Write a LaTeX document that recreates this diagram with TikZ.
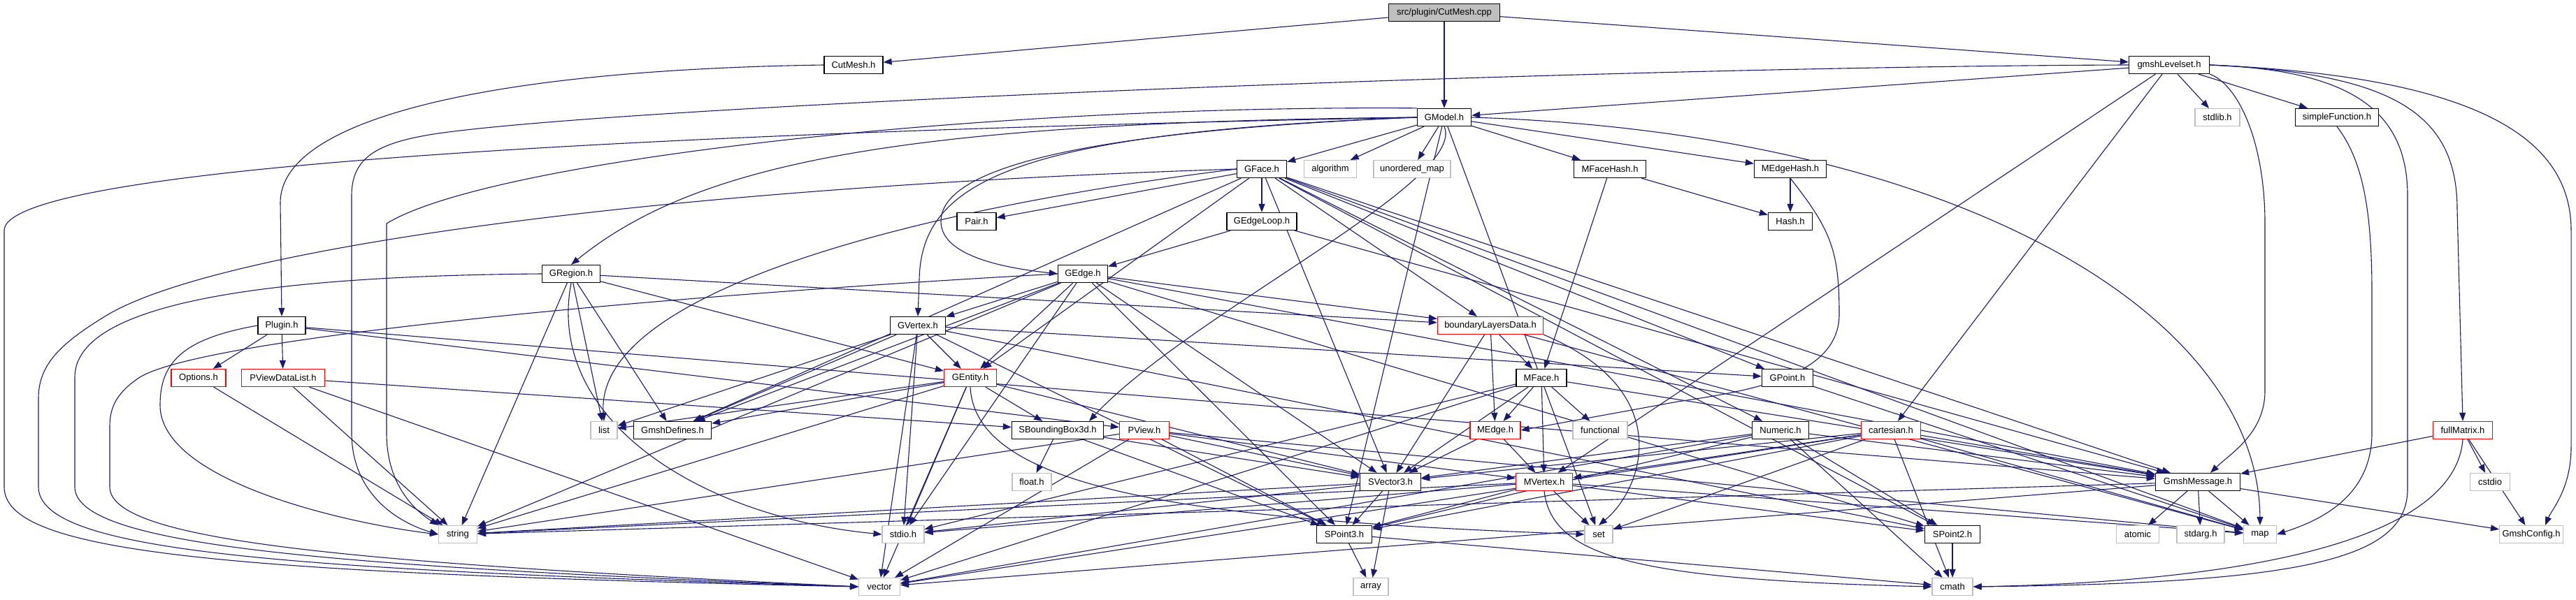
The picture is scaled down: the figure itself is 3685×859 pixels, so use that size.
\documentclass[tikz,border=0pt]{standalone}
\usepackage{fontspec}
\setmainfont{Liberation Sans}
\usetikzlibrary{arrows.meta}
\definecolor{edgecol}{HTML}{191970}
\definecolor{extgray}{HTML}{BFBFBF}
\begin{document}
\begin{tikzpicture}[x=1pt,y=-1pt,
 nd/.style={draw=black, line width=1.3pt, fill=white, minimum height=25pt, inner sep=0pt, font=\fontsize{13}{15}\selectfont},
 ext/.style={nd, draw=extgray, line width=1.1pt},
 trunc/.style={nd, draw=red},
 rootnd/.style={nd, fill=extgray},
 e/.style={draw=edgecol, line width=1.1pt, -{Triangle[length=12pt,width=9pt]}}]
\useasboundingbox (0,0) rectangle (3685,859);
\newcommand\allnodes[1]{%
\node[rootnd, minimum width=159pt] (cpp#1) at (2066,18) {src/plugin/CutMesh.cpp};
\node[nd, minimum width=84pt] (CutMeshH#1) at (1221,93) {CutMesh.h};
\node[nd, minimum width=115pt] (gmshLevelset#1) at (3103,93) {gmshLevelset.h};
\node[nd, minimum width=77pt] (GModel#1) at (2066,168) {GModel.h};
\node[ext, minimum width=64pt] (stdlib#1) at (3172,168) {stdlib.h};
\node[nd, minimum width=119pt] (simpleFunction#1) at (3343,168) {simpleFunction.h};
\node[nd, minimum width=71pt] (GFace#1) at (1805,242) {GFace.h};
\node[ext, minimum width=75pt] (algorithm#1) at (1903,242) {algorithm};
\node[ext, minimum width=110pt] (unorderedmap#1) at (2020,242) {unordered\_map};
\node[nd, minimum width=103pt] (MFaceHash#1) at (2303,242) {MFaceHash.h};
\node[nd, minimum width=103pt] (MEdgeHash#1) at (2561,242) {MEdgeHash.h};
\node[nd, minimum width=56pt] (Pair#1) at (1397,317) {Pair.h};
\node[nd, minimum width=100pt] (GEdgeLoop#1) at (1805,317) {GEdgeLoop.h};
\node[nd, minimum width=63pt] (Hash#1) at (2561,317) {Hash.h};
\node[nd, minimum width=83pt] (GRegion#1) at (817,392) {GRegion.h};
\node[nd, minimum width=71pt] (GEdge#1) at (1549,392) {GEdge.h};
\node[nd, minimum width=68pt] (Plugin#1) at (403,466) {Plugin.h};
\node[nd, minimum width=79pt] (GVertex#1) at (1313,466) {GVertex.h};
\node[trunc, minimum width=151pt] (bLD#1) at (2132,466) {boundaryLayersData.h};
\node[trunc, minimum width=78pt] (Options#1) at (284,541) {Options.h};
\node[trunc, minimum width=119pt] (PViewDataList#1) at (405,541) {PViewDataList.h};
\node[trunc, minimum width=75pt] (GEntity#1) at (1388,541) {GEntity.h};
\node[nd, minimum width=72pt] (MFace#1) at (2205,541) {MFace.h};
\node[nd, minimum width=73pt] (GPoint#1) at (2557,541) {GPoint.h};
\node[ext, minimum width=38pt] (list#1) at (864,616) {list};
\node[nd, minimum width=111pt] (GmshDefines#1) at (962,616) {GmshDefines.h};
\node[nd, minimum width=131pt] (SBoundingBox3d#1) at (1513,616) {SBoundingBox3d.h};
\node[trunc, minimum width=71pt] (PView#1) at (1637,616) {PView.h};
\node[trunc, minimum width=72pt] (MEdge#1) at (2139,616) {MEdge.h};
\node[ext, minimum width=78pt] (functional#1) at (2289,616) {functional};
\node[nd, minimum width=81pt] (Numeric#1) at (2547,616) {Numeric.h};
\node[trunc, minimum width=85pt] (cartesian#1) at (2705,616) {cartesian.h};
\node[trunc, minimum width=85pt] (fullMatrix#1) at (3523,616) {fullMatrix.h};
\node[ext, minimum width=56pt] (float#1) at (1476,690) {float.h};
\node[nd, minimum width=87pt] (SVector3#1) at (1989,690) {SVector3.h};
\node[trunc, minimum width=81pt] (MVertex#1) at (2209,690) {MVertex.h};
\node[nd, minimum width=121pt] (GmshMessage#1) at (3144,690) {GmshMessage.h};
\node[ext, minimum width=57pt] (cstdio#1) at (3562,690) {cstdio};
\node[ext, minimum width=55pt] (string#1) at (655,765) {string};
\node[ext, minimum width=60pt] (stdio#1) at (1292,765) {stdio.h};
\node[nd, minimum width=79pt] (SPoint3#1) at (1923,765) {SPoint3.h};
\node[ext, minimum width=40pt] (set#1) at (2287,765) {set};
\node[nd, minimum width=79pt] (SPoint2#1) at (2793,765) {SPoint2.h};
\node[ext, minimum width=61pt] (atomic#1) at (3058,765) {atomic};
\node[ext, minimum width=68pt] (stdarg#1) at (3148,765) {stdarg.h};
\node[ext, minimum width=47pt] (map#1) at (3233,765) {map};
\node[ext, minimum width=91pt] (GmshConfig#1) at (3621,765) {GmshConfig.h};
\node[ext, minimum width=59pt] (vector#1) at (1258,840) {vector};
\node[ext, minimum width=50pt] (array#1) at (1961,840) {array};
\node[ext, minimum width=58pt] (cmath#1) at (2793,840) {cmath};
}
% first pass: named nodes (used by the connectors)
\allnodes{}
% straight edges
\foreach \a/\b in {cpp/CutMeshH, cpp/GModel, cpp/gmshLevelset,
 gmshLevelset/GModel, gmshLevelset/stdlib, gmshLevelset/simpleFunction, gmshLevelset/cartesian, gmshLevelset/MVertex,
 GModel/GFace, GModel/algorithm, GModel/unorderedmap, GModel/MFaceHash, GModel/MEdgeHash, GModel/set, GModel/SPoint3,
 GFace/GEdgeLoop, GFace/Pair, GFace/GEntity, GFace/GPoint, GFace/SPoint2, GFace/SVector3, GFace/Numeric, GFace/bLD, GFace/map, GFace/GmshDefines, GFace/GmshMessage,
 GEdgeLoop/GEdge, GEdgeLoop/GmshMessage,
 GRegion/GEntity, GRegion/bLD, GRegion/list, GRegion/GmshDefines, GRegion/string,
 GEdge/GVertex, GEdge/GEntity, GEdge/SVector3, GEdge/SPoint3, GEdge/SPoint2, GEdge/bLD, GEdge/string, GEdge/stdio, GEdge/GmshDefines, GEdge/GmshMessage,
 GVertex/GEntity, GVertex/GPoint, GVertex/SPoint2, GVertex/SPoint3, GVertex/list, GVertex/vector, GVertex/stdio, GVertex/GmshDefines,
 GEntity/SBoundingBox3d, GEntity/list, GEntity/string, GEntity/vector, GEntity/stdio, GEntity/GmshDefines, GEntity/SVector3,
 PViewDataList/SBoundingBox3d, PViewDataList/vector, Options/string, PViewDataList/string,
 Plugin/Options, Plugin/PViewDataList, Plugin/PView, Plugin/GmshMessage,
 PView/vector, PView/string, PView/SPoint3, PView/SVector3, PView/MVertex, PView/map,
 SBoundingBox3d/float, SBoundingBox3d/SPoint3, SBoundingBox3d/SVector3,
 bLD/MFace, bLD/MEdge, bLD/SVector3, bLD/map,
 MFaceHash/MFace, MFaceHash/Hash, MEdgeHash/Hash,
 MFace/MEdge, MFace/MVertex, MFace/SVector3, MFace/functional, MFace/vector, MFace/stdio, MFace/GmshMessage,
 MEdge/MVertex, MEdge/SVector3,
 MVertex/set, MVertex/SPoint3, MVertex/SPoint2, MVertex/stdio, MVertex/string, MVertex/map,
 SVector3/SPoint3, SVector3/array, SVector3/string, SVector3/stdio,
 SPoint3/array, SPoint3/cmath, SPoint2/cmath,
 Numeric/SPoint2, Numeric/cmath, Numeric/vector, Numeric/SPoint3, Numeric/SVector3, Numeric/GmshMessage,
 cartesian/SPoint3, cartesian/SVector3, cartesian/MVertex, cartesian/vector, cartesian/set, cartesian/map, cartesian/cmath, cartesian/GmshMessage,
 GPoint/map,
 GmshMessage/atomic, GmshMessage/stdarg, GmshMessage/map, GmshMessage/string, GmshMessage/vector, GmshMessage/GmshConfig,
 fullMatrix/GmshMessage, fullMatrix/cstdio, fullMatrix/GmshConfig}
 {\draw[e] (\a) -- (\b);}
% curved edges
\draw[e] (CutMeshH.west) .. controls (700,100) and (401,170) .. (401,290) -- (Plugin.north);
\draw[e] (gmshLevelset.south east) .. controls (3200,120) and (3240,200) .. (3240,320) -- (3240,560) .. controls (3240,620) and (3190,650) .. ([xshift=18pt]GmshMessage.north);
\draw[e] (gmshLevelset.east) .. controls (3350,100) and (3444,150) .. (3444,280) -- (3444,700) .. controls (3444,800) and (3300,835) .. (cmath.east);
\draw[e] (gmshLevelset.east) .. controls (3420,105) and (3515,160) .. (3515,300) -- (fullMatrix.north);
\draw[e] (gmshLevelset.east) .. controls (3550,110) and (3678,200) .. (3678,330) -- (3678,640) .. controls (3678,700) and (3650,730) .. ([xshift=20pt]GmshConfig.north);
\draw[e] (gmshLevelset.west) .. controls (2300,95) and (900,150) .. (620,192) .. controls (540,205) and (503,225) .. (503,280) -- (503,620) .. controls (503,700) and (560,745) .. (string.west);
\draw[e] (simpleFunction.south) .. controls (3380,230) and (3393,300) .. (3393,420) -- (3393,620) .. controls (3393,710) and (3320,745) .. (map.east);
\draw[e] (GModel.west) .. controls (1300,175) and (1000,230) .. (GRegion.north);
\draw[e] (GModel.west) .. controls (1500,190) and (1346,250) .. (1346,317) .. controls (1346,370) and (1450,385) .. (GEdge.west);
\draw[e] (GModel.west) .. controls (1450,190) and (1318,260) .. (1315,400) -- (GVertex.north);
\draw[e] (GModel.west) .. controls (900,190) and (6,240) .. (6,330) -- (6,697) .. controls (6,790) and (300,820) .. (vector.west);
\draw[e] (GModel.north west) .. controls (1400,150) and (700,230) .. (553,320) -- (553,620) .. controls (553,700) and (600,735) .. (string.north west);
\draw[e] (GModel.east) .. controls (2800,190) and (3230,450) .. (map.north);
\draw[e] (GModel.south) .. controls (2100,260) and (1700,450) .. ([xshift=45pt]SBoundingBox3d.north);
\draw[e] (GEntity.south) .. controls (1395,700) and (1700,745) .. (set.west);
\draw[e] (bLD.south east) .. controls (2400,560) and (2350,700) .. (set.north);
\draw[e] (MEdgeHash.south) .. controls (2620,330) and (2631,360) .. (2631,450) .. controls (2631,540) and (2500,560) .. (2400,575) -- (MEdge.east);
\draw[e] (MVertex.south) .. controls (2220,800) and (2350,830) .. (cmath.west);
\draw[e] (fullMatrix.south) .. controls (3510,800) and (3100,835) .. (cmath.east);
\draw[e] (GFace.west) .. controls (900,270) and (300,360) .. (150,453) .. controls (90,490) and (55,520) .. (55,570) -- (55,697) .. controls (55,790) and (400,815) .. (vector.west);
\draw[e] (GRegion.west) .. controls (400,395) and (107,430) .. (107,540) -- (107,697) .. controls (107,780) and (450,810) .. (vector.west);
\draw[e] (GRegion.south) .. controls (780,600) and (1000,740) .. (stdio.west);
\draw[e] (GEdge.west) .. controls (1000,420) and (300,480) .. (200,540) .. controls (170,560) and (157,580) .. (157,610) -- (157,697) .. controls (157,775) and (500,805) .. (vector.west);
\draw[e] (GFace.west) .. controls (1300,300) and (850,420) .. (list.north);
\draw[e] (Plugin.west) .. controls (260,485) and (229,520) .. (229,580) .. controls (229,690) and (500,750) .. (string.west);
% second pass: the same nodes again, on top of the connectors
\allnodes{x}
\end{tikzpicture}
\end{document}
